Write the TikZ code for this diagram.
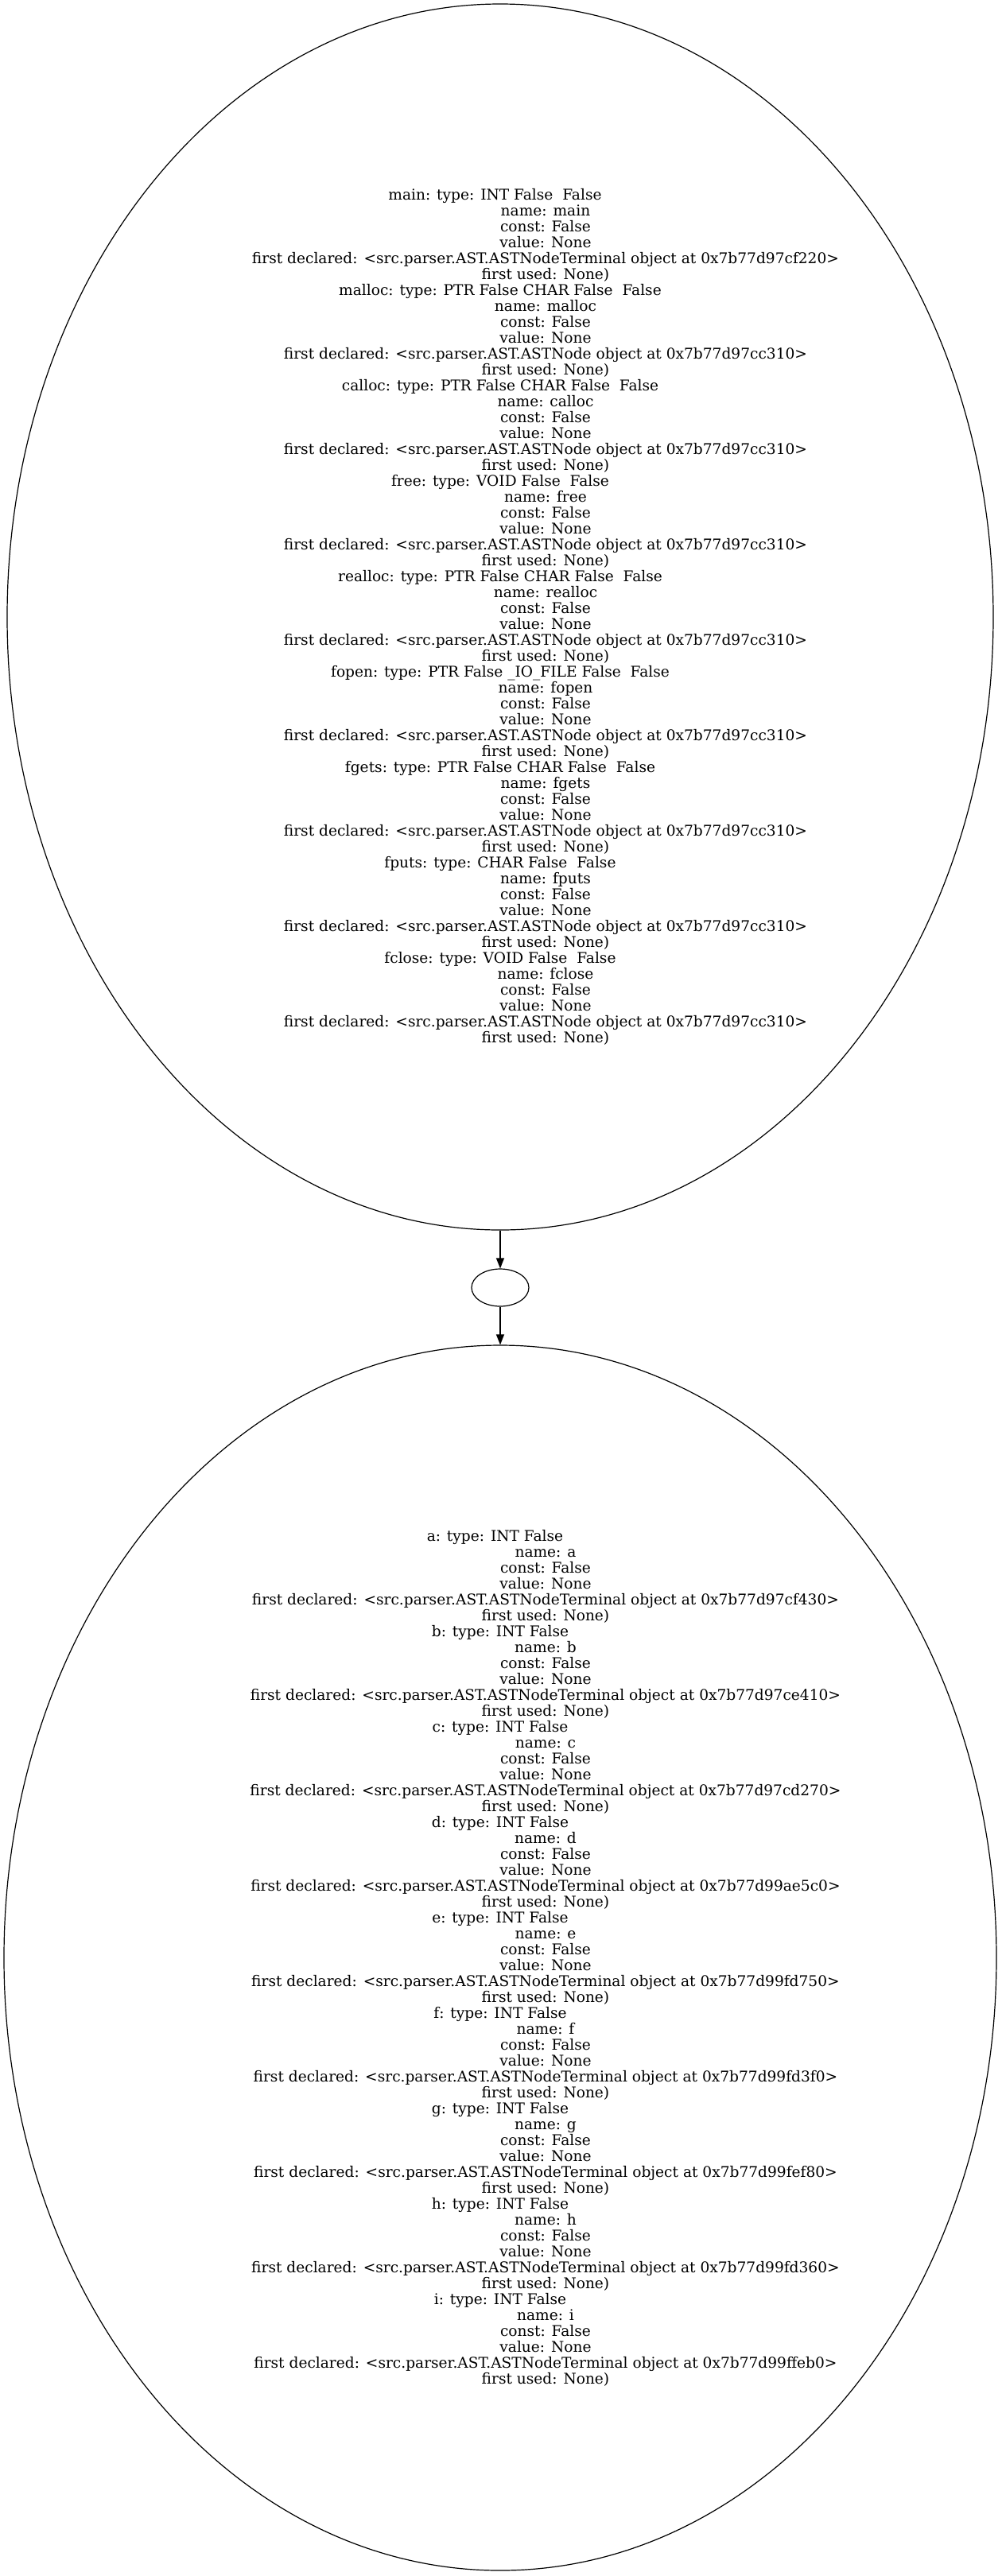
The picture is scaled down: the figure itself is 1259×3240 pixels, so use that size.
\documentclass[tikz,border=0pt]{standalone}
\usepackage{fontspec}
\setmainfont{DejaVu Serif}
\usepackage{tikz}
\usetikzlibrary{arrows.meta,shapes.geometric}

% one symbol table entry: name, type, declaring object
\newcommand{\symentry}[3]{#1: type: #2\hspace*{13pt}\\
\hspace*{114pt}name: #1\\
\hspace*{114pt}const: False\\
\hspace*{114pt}value: None\\
\hspace*{114pt}first declared: <src.parser.AST.#3>\\
\hspace*{114pt}first used: None)}

\begin{document}
\begin{tikzpicture}[x=1pt, y=-1pt,
  table/.style={draw, ellipse, line width=1.2pt, inner sep=0pt, align=center, font=\fontsize{18.6pt}{20pt}\selectfont},
  edge/.style={line width=1.2pt, -{Triangle[length=13pt, width=10pt]}}]
\useasboundingbox (0,0) rectangle (1259,3240);

\node[table, minimum width=1240pt, minimum height=1542pt] (funcs) at (629,776) {%
\symentry{main}{INT False\ \ False}{ASTNodeTerminal object at 0x7b77d97cf220}\\
\symentry{malloc}{PTR False CHAR False\ \ False}{ASTNode object at 0x7b77d97cc310}\\
\symentry{calloc}{PTR False CHAR False\ \ False}{ASTNode object at 0x7b77d97cc310}\\
\symentry{free}{VOID False\ \ False}{ASTNode object at 0x7b77d97cc310}\\
\symentry{realloc}{PTR False CHAR False\ \ False}{ASTNode object at 0x7b77d97cc310}\\
\symentry{fopen}{PTR False \_IO\_FILE False\ \ False}{ASTNode object at 0x7b77d97cc310}\\
\symentry{fgets}{PTR False CHAR False\ \ False}{ASTNode object at 0x7b77d97cc310}\\
\symentry{fputs}{CHAR False\ \ False}{ASTNode object at 0x7b77d97cc310}\\
\symentry{fclose}{VOID False\ \ False}{ASTNode object at 0x7b77d97cc310}};

\node[table, minimum width=72pt, minimum height=47pt] (scope) at (629,1619.5) {};

\node[table, minimum width=1248pt, minimum height=1541pt] (vars) at (629,2462.5) {%
\symentry{a}{INT False}{ASTNodeTerminal object at 0x7b77d97cf430}\\
\symentry{b}{INT False}{ASTNodeTerminal object at 0x7b77d97ce410}\\
\symentry{c}{INT False}{ASTNodeTerminal object at 0x7b77d97cd270}\\
\symentry{d}{INT False}{ASTNodeTerminal object at 0x7b77d99ae5c0}\\
\symentry{e}{INT False}{ASTNodeTerminal object at 0x7b77d99fd750}\\
\symentry{f}{INT False}{ASTNodeTerminal object at 0x7b77d99fd3f0}\\
\symentry{g}{INT False}{ASTNodeTerminal object at 0x7b77d99fef80}\\
\symentry{h}{INT False}{ASTNodeTerminal object at 0x7b77d99fd360}\\
\symentry{i}{INT False}{ASTNodeTerminal object at 0x7b77d99ffeb0}};

\draw[edge] (funcs) -- (scope);
\draw[edge] (scope) -- (vars);
\end{tikzpicture}
\end{document}
